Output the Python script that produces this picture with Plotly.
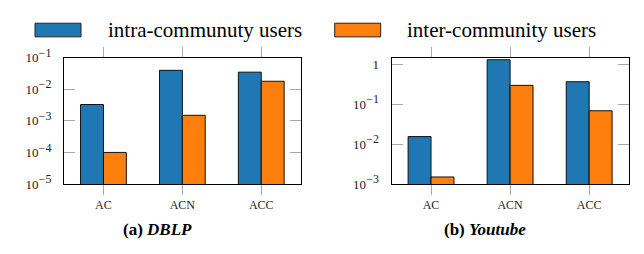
import plotly.graph_objects as go

categories = ["AC", "ACN", "ACC"]
dblp_intra = [0.0033, 0.040, 0.035]
dblp_inter = [0.0001, 0.0015, 0.018]
yt_intra = [0.0155, 1.32, 0.37]
yt_inter = [0.0015, 0.30, 0.069]
series_names = ["intra-communuty users", "inter-community users"]
colors = ["#1f77b4", "#ff7f0e"]

dblp_tickvals = [1e-5, 1e-4, 1e-3, 1e-2, 1e-1]
dblp_exponents = ["−5", "−4", "−3", "−2", "−1"]
yt_tickvals = [1e-3, 1e-2, 1e-1, 1]
yt_exponents = ["−3", "−2", "−1", None]
captions = ["<b>(a) <i>DBLP</i></b>", "<b>(b) <i>Youtube</i></b>"]

FONT = "Liberation Serif"
W, H = 644, 254


def power_label(e):
    if e is None:
        return "1"
    return "10<sup><span style='font-size:12px'>" + e + "</span></sup>"


dblp_ticktext = [power_label(e) for e in dblp_exponents]
yt_ticktext = [power_label(e) for e in yt_exponents]

fig = go.Figure()
panels = [(dblp_intra, dblp_inter, "x", "y"), (yt_intra, yt_inter, "x2", "y2")]
for intra, inter, xa, ya in panels:
    for vals, name, col in zip([intra, inter], series_names, colors):
        fig.add_trace(go.Bar(
            x=categories, y=vals, name=name, xaxis=xa, yaxis=ya,
            marker=dict(color=col, line=dict(color="#111111", width=1)),
            showlegend=False,
        ))


def px_x(v):
    return v / W


def px_y(v):
    return 1 - v / H


xcommon = dict(
    showline=True, linecolor="black", linewidth=1, mirror="ticks",
    ticks="outside", ticklen=10, tickcolor="#a8a8a8", tickwidth=1,
    showgrid=False, zeroline=False, range=[-0.5, 2.5],
    tickfont=dict(family=FONT, size=12, color="#222"),
)
ycommon = dict(
    type="log", showline=True, linecolor="black", linewidth=1, mirror="ticks",
    ticks="inside", ticklen=11, tickcolor="#a8a8a8", tickwidth=1,
    showgrid=False, zeroline=False,
    tickfont=dict(family=FONT, size=13, color="#222"),
    ticklabelstandoff=9,
)

ydom = [px_y(178), px_y(41)]
fig.update_layout(
    width=W, height=H,
    margin=dict(l=0, r=0, t=0, b=0),
    paper_bgcolor="white", plot_bgcolor="white",
    barmode="group", bargap=0.42, bargroupgap=0,
    xaxis=dict(domain=[px_x(56), px_x(292.7)], anchor="y", **xcommon),
    yaxis=dict(domain=ydom, anchor="x", range=[-5, -1],
               tickvals=dblp_tickvals, ticktext=dblp_ticktext, **ycommon),
    xaxis2=dict(domain=[px_x(383.5), px_x(620.7)], anchor="y2", **xcommon),
    yaxis2=dict(domain=ydom, anchor="x2", range=[-3, 0.17],
                tickvals=yt_tickvals, ticktext=yt_ticktext, **ycommon),
    font=dict(family=FONT),
)

# legend drawn at top
legend_items = [(27, 73, 98), (326.7, 372.7, 397)]
for (x0, x1, tx), name, col in zip(legend_items, series_names, colors):
    fig.add_shape(type="rect", xref="paper", yref="paper",
                  x0=px_x(x0), x1=px_x(x1), y0=px_y(18.3), y1=px_y(3.5),
                  fillcolor=col, line=dict(color="#222", width=1))
    fig.add_annotation(x=px_x(tx), y=px_y(10.8), xref="paper", yref="paper",
                       text=name, showarrow=False, xanchor="left", yanchor="middle",
                       font=dict(family=FONT, size=21, color="black"))

for cx, cap in zip([149, 477], captions):
    fig.add_annotation(x=px_x(cx), y=px_y(227), xref="paper", yref="paper",
                       text=cap, showarrow=False, xanchor="center", yanchor="middle",
                       font=dict(family=FONT, size=17, color="black"))

fig.write_html("out.html")
